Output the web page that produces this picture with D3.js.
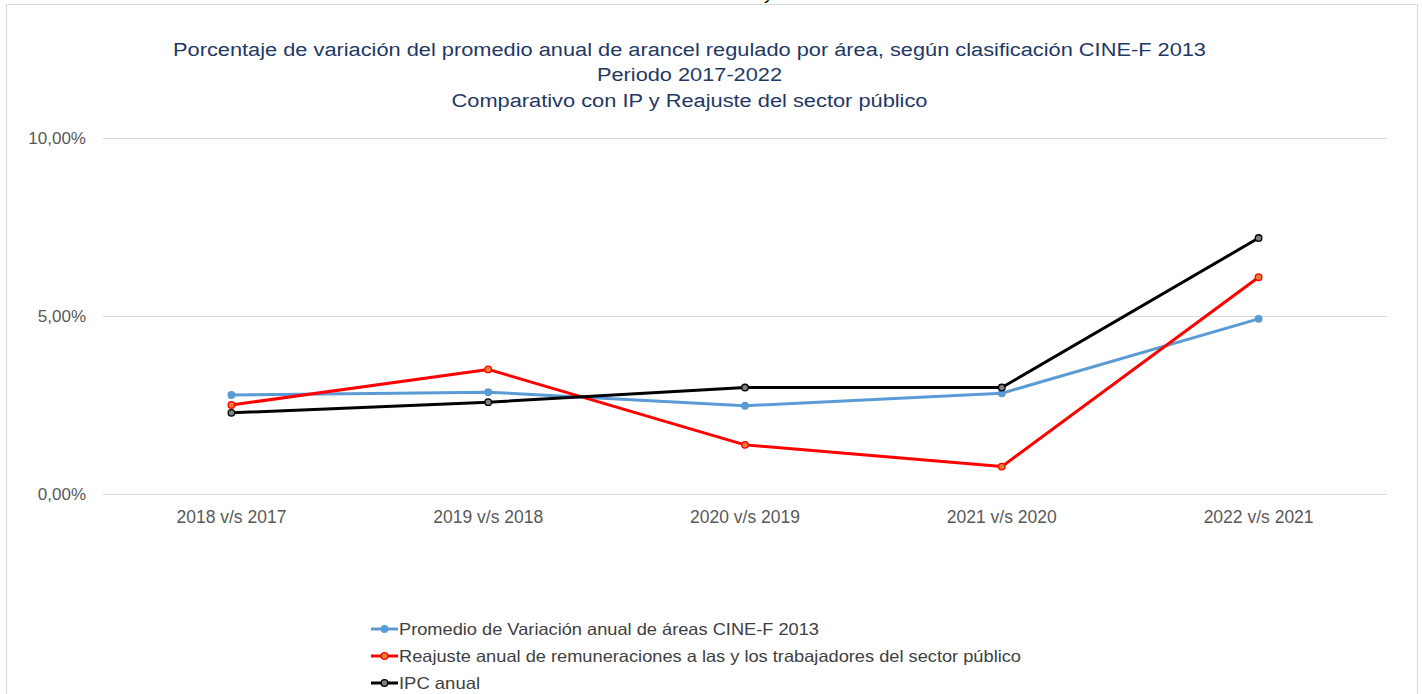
<!DOCTYPE html>
<html><head><meta charset="utf-8">
<script src="https://cdn.jsdelivr.net/npm/d3@7"></script>
<style>html,body{margin:0;padding:0;background:#fff;}svg{display:block;font-family:"Liberation Sans",Arial,sans-serif;}</style>
</head><body>
<svg id="c" width="1422" height="694"></svg>
<script>
const categories = ["2018 v/s 2017","2019 v/s 2018","2020 v/s 2019","2021 v/s 2020","2022 v/s 2021"];
const promedioCine = [2.78, 2.86, 2.48, 2.83, 4.92];
const reajuste = [2.50, 3.50, 1.38, 0.77, 6.09];
const ipc = [2.28, 2.58, 2.99, 2.99, 7.19];
const yTicks = [0, 5, 10];
const seriesNames = ["Promedio de Variación anual de áreas CINE-F 2013","Reajuste anual de remuneraciones a las y los trabajadores del sector público","IPC anual"];
const titleLines = ["Porcentaje de variación del promedio anual de arancel regulado por área, según clasificación CINE-F 2013","Periodo 2017-2022","Comparativo con IP y Reajuste del sector público"];

const series = [
  {name: seriesNames[0], values: promedioCine, stroke: "#5B9BD5", fill: "#5B9BD5", mstroke: "#5B9BD5"},
  {name: seriesNames[1], values: reajuste, stroke: "#FF0000", fill: "#ED7D31", mstroke: "#FF0000"},
  {name: seriesNames[2], values: ipc, stroke: "#000000", fill: "#7F7F7F", mstroke: "#000000"}
];

const svg = d3.select("#c");
// outer frame
svg.append("rect").attr("x",6.5).attr("y",4.5).attr("width",1411).attr("height",700)
  .attr("fill","none").attr("stroke","#D9D9D9").attr("stroke-width",1);
// cut-off glyph above frame
svg.append("text").attr("x",764).attr("y",-1).attr("font-size",18).attr("fill","#000").text("y");

// title
const titleW = [1033, 185, 476];
const titleY = [56, 81, 107];
titleLines.forEach((t,i)=>{
  svg.append("text").attr("x",689.5).attr("y",titleY[i]).attr("text-anchor","middle")
    .attr("font-size",18).attr("fill","#1F3864")
    .attr("textLength",titleW[i]).attr("lengthAdjust","spacingAndGlyphs").text(t);
});

const x = d3.scaleBand().domain(categories).range([103,1387]);
const y = d3.scaleLinear().domain([0,10]).range([494,138]);

// gridlines
const yAxis = d3.axisLeft(y).tickValues(yTicks).tickSize(-(1387-103))
  .tickFormat(d => d3.format(".2f")(d).replace(".",",") + "%").tickPadding(17);
const gy = svg.append("g").attr("transform","translate(103,0)").call(yAxis);
gy.select(".domain").remove();
gy.selectAll(".tick line").attr("stroke","#D9D9D9").attr("stroke-width",1);
gy.selectAll(".tick text").attr("font-size",17).attr("fill","#595959")
  .attr("font-family","Liberation Sans, Arial, sans-serif").attr("dy","0.35em");

const xAxis = d3.axisBottom(x).tickSize(0).tickPadding(17);
const gx = svg.append("g").attr("transform","translate(0,494)").call(xAxis);
gx.select(".domain").remove();
gx.selectAll(".tick text").attr("font-size",17.5).attr("fill","#595959")
  .attr("font-family","Liberation Sans, Arial, sans-serif");

const cx = i => x(categories[i]) + x.bandwidth()/2;
const line = d3.line().x((d,i)=>cx(i)).y(d=>y(d));

series.forEach(s=>{
  svg.append("path").datum(s.values).attr("d",line).attr("fill","none")
    .attr("stroke",s.stroke).attr("stroke-width",3).attr("stroke-linejoin","round").attr("stroke-linecap","round");
});
series.forEach(s=>{
  svg.append("g").selectAll("circle").data(s.values).join("circle")
    .attr("cx",(d,i)=>cx(i)).attr("cy",d=>y(d)).attr("r",3.3)
    .attr("fill",s.fill).attr("stroke",s.mstroke).attr("stroke-width",1.3);
});

// legend
const legY = [629, 656, 683];
const legW = [420, 622, 81];
series.forEach((s,i)=>{
  const g = svg.append("g");
  g.append("line").attr("x1",371).attr("x2",398).attr("y1",legY[i]).attr("y2",legY[i])
    .attr("stroke",s.stroke).attr("stroke-width",3);
  g.append("circle").attr("cx",384.5).attr("cy",legY[i]).attr("r",3.3)
    .attr("fill",s.fill).attr("stroke",s.mstroke).attr("stroke-width",1.3);
  g.append("text").attr("x",399).attr("y",legY[i]).attr("dy","0.35em")
    .attr("font-size",16.5).attr("fill","#404040")
    .attr("textLength",legW[i]).attr("lengthAdjust","spacingAndGlyphs").text(s.name);
});
</script>
</body></html>
